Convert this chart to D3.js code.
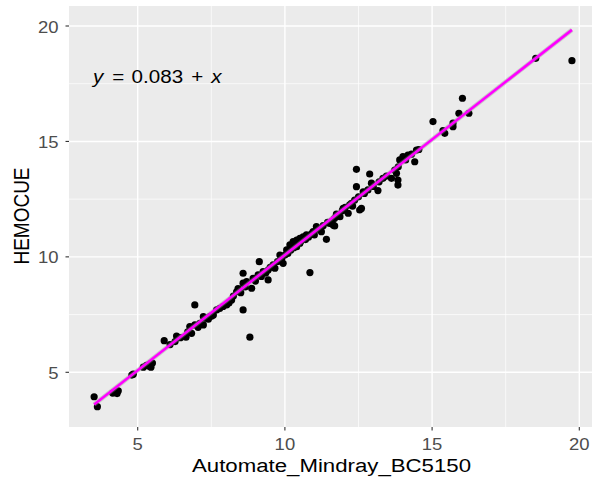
<!DOCTYPE html>
<html>
<head>
<meta charset="utf-8">
<script src="https://cdn.jsdelivr.net/npm/d3@7"></script>
<style>
  body { margin: 0; background: #fff; }
  text { font-family: "Liberation Sans", Arial, sans-serif; }
</style>
</head>
<body>
<svg id="chart" width="592" height="477"></svg>
<script>
// measured values (Automate_Mindray_BC5150 vs HEMOCUE)
var automate = [3.52,3.63,4.15,4.25,4.3,4.34,4.8,4.85,5.19,5.3,5.36,5.45,5.42,5.5,
  5.9,6.1,6.27,6.32,6.45,6.64,6.7,6.77,6.83,6.94,6.94,7.05,7.11,7.23,7.23,7.28,7.4,7.45,7.51,7.57,
  7.68,7.79,7.9,8.02,8.1,8.19,8.25,8.36,8.41,8.5,8.58,8.58,8.58,8.65,8.7,8.81,8.87,8.92,9.0,
  9.09,9.13,9.2,9.26,9.35,9.43,9.43,9.5,9.6,9.66,9.75,9.83,9.9,9.94,10.0,10.06,10.1,10.17,
  10.2,10.28,10.3,10.4,10.4,10.45,10.51,10.51,10.55,10.62,10.7,10.73,10.8,10.85,10.9,10.96,
  11.0,11.07,11.15,11.24,11.3,11.41,11.45,11.52,11.6,11.64,11.69,11.69,11.75,11.81,11.87,11.95,
  11.98,12.05,12.15,12.2,12.26,12.3,12.37,12.43,12.43,12.5,12.54,12.6,12.66,12.7,12.82,12.88,
  12.94,13.0,13.16,13.2,13.33,13.45,13.62,13.73,13.79,13.84,13.84,13.85,13.9,14.01,14.1,14.18,
  14.3,14.41,14.47,14.55,15.03,15.37,15.43,15.71,15.71,15.91,16.03,16.25,18.52,19.75];
var hemocue = [3.94,3.51,4.1,4.15,4.08,4.2,4.88,4.92,5.22,5.3,5.27,5.22,5.35,5.4,
  6.37,6.2,6.33,6.57,6.5,6.52,6.75,6.98,6.69,7.05,7.92,6.95,7.12,7.41,7.05,7.35,7.3,7.41,7.44,7.48,
  7.7,7.77,7.85,7.92,8.0,8.13,8.3,8.49,8.63,8.45,8.86,7.7,9.29,8.7,8.93,6.52,8.64,9.07,8.95,
  9.22,9.79,9.15,9.36,9.3,9.43,9.0,9.55,9.65,9.51,9.8,10.08,9.95,9.72,10.08,10.3,10.15,10.52,
  10.3,10.66,10.4,10.73,10.44,10.6,10.8,10.59,10.7,10.87,10.75,10.95,10.85,9.32,11.0,11.09,
  10.95,11.31,11.2,11.09,11.35,10.76,11.5,11.45,11.55,11.38,11.67,11.34,11.85,11.81,11.74,12.0,
  12.1,12.15,11.89,12.25,12.32,12.2,12.46,13.04,13.79,12.6,12.03,12.1,12.82,12.75,12.9,13.59,
  13.19,13.05,12.87,13.25,13.4,13.5,13.4,13.76,13.62,13.11,13.33,13.9,14.2,14.34,14.2,14.41,
  14.45,14.12,14.63,14.65,15.86,15.47,15.35,15.64,15.79,16.22,16.87,16.22,18.6,18.5];
var xTicks = [5, 10, 15, 20];
var yTicks = [5, 10, 15, 20];
var xMinor = [7.5, 12.5, 17.5];
var yMinor = [7.5, 12.5, 17.5];
var intercept = 0.083, slope = 1;

var svg = d3.select("#chart");
var sx = 1.17; // picture is stretched horizontally a little

var panel = { left: 69, top: 6, bottom: 427, right: 600 };
var x = d3.scaleLinear().domain([5, 20]).range([137.7, 579.3]);
var y = d3.scaleLinear().domain([5, 20]).range([372.3, 26]);

svg.append("rect")
    .attr("x", panel.left).attr("y", panel.top)
    .attr("width", panel.right - panel.left).attr("height", panel.bottom - panel.top)
    .attr("fill", "#ebebeb");

// grid
xMinor.forEach(function(v) {
    svg.append("line").attr("x1", x(v)).attr("x2", x(v))
        .attr("y1", panel.top).attr("y2", panel.bottom)
        .attr("stroke", "#fff").attr("stroke-width", 0.7);
});
yMinor.forEach(function(v) {
    svg.append("line").attr("y1", y(v)).attr("y2", y(v))
        .attr("x1", panel.left).attr("x2", panel.right)
        .attr("stroke", "#fff").attr("stroke-width", 0.7);
});
xTicks.forEach(function(v) {
    svg.append("line").attr("x1", x(v)).attr("x2", x(v))
        .attr("y1", panel.top).attr("y2", panel.bottom)
        .attr("stroke", "#fff").attr("stroke-width", 1.4);
});
yTicks.forEach(function(v) {
    svg.append("line").attr("y1", y(v)).attr("y2", y(v))
        .attr("x1", panel.left).attr("x2", panel.right)
        .attr("stroke", "#fff").attr("stroke-width", 1.4);
});

// fitted line
var xMin = d3.min(automate), xMax = d3.max(automate);
var fit = [[xMin, intercept + slope * xMin], [xMax, intercept + slope * xMax]];
var lineGen = d3.line().x(function(d) { return x(d[0]); }).y(function(d) { return y(d[1]); });

// points
svg.append("g").selectAll("circle")
    .data(automate)
    .enter().append("circle")
    .attr("cx", function(d) { return x(d); })
    .attr("cy", function(d, i) { return y(hemocue[i]); })
    .attr("r", 3.6)
    .attr("fill", "#000");

svg.append("path").attr("d", lineGen(fit))
    .attr("fill", "none").attr("stroke", "#999").attr("stroke-opacity", 0.4).attr("stroke-width", 4.5);
svg.append("path").attr("d", lineGen(fit))
    .attr("fill", "none").attr("stroke", "#ff00ff").attr("stroke-width", 2.6);

// equation label, pieces placed like plotmath spacing
var eq = svg.append("g").attr("transform", "translate(93,83) scale(" + sx + ",1)");
[["y", 0, true], ["=", 16.5, false], ["0.083", 33, false], ["+", 84, false], ["x", 101, true]]
    .forEach(function(p) {
        eq.append("text").attr("x", p[1])
            .attr("font-size", 17.6).attr("fill", "#000")
            .attr("font-style", p[2] ? "italic" : "normal")
            .text(p[0]);
    });

// axes ticks and labels
xTicks.forEach(function(v) {
    svg.append("line").attr("x1", x(v)).attr("x2", x(v))
        .attr("y1", panel.bottom).attr("y2", panel.bottom + 3.5)
        .attr("stroke", "#333").attr("stroke-width", 1.1);
    svg.append("text")
        .attr("transform", "translate(" + x(v) + ",450) scale(" + sx + ",1)")
        .attr("text-anchor", "middle").attr("font-size", 15.8).attr("fill", "#4d4d4d")
        .text(v);
});
yTicks.forEach(function(v) {
    svg.append("line").attr("y1", y(v)).attr("y2", y(v))
        .attr("x1", panel.left - 3.5).attr("x2", panel.left)
        .attr("stroke", "#333").attr("stroke-width", 1.1);
    svg.append("text")
        .attr("transform", "translate(58.5," + (y(v) + 6.5) + ") scale(" + sx + ",1)")
        .attr("text-anchor", "end").attr("font-size", 15.8).attr("fill", "#4d4d4d")
        .text(v);
});

svg.append("text")
    .attr("transform", "translate(331.5,472) scale(" + sx + ",1)")
    .attr("text-anchor", "middle").attr("font-size", 19).attr("fill", "#000")
    .text("Automate_Mindray_BC5150");

svg.append("text")
    .attr("transform", "translate(29,216) scale(" + sx + ",1) rotate(-90)")
    .attr("text-anchor", "middle").attr("font-size", 19).attr("fill", "#000")
    .text("HEMOCUE");
</script>
</body>
</html>
